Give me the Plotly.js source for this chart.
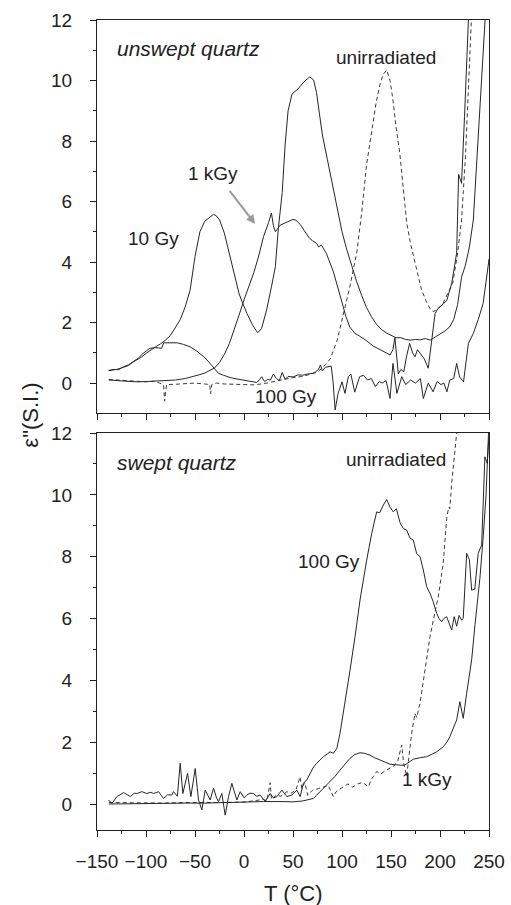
<!DOCTYPE html>
<html>
<head>
<meta charset="utf-8">
<script src="https://cdn.plot.ly/plotly-3.0.1.min.js"></script>
<style>html,body{margin:0;padding:0;background:#fff;}#chart{width:511px;height:905px;}</style>
</head>
<body>
<div id="chart"></div>
<script>
// ---------- Top panel: unswept quartz ----------
const top10T = [-138,-130,-125,-118,-113,-105,-100,-95,-90,-85,-80,-75,-70,-65,-60,-55,-50,-45,-40,-36,-31,-28,-25,-20,-15,-10,-5,-2,3,9,14,18,23,28,32,35,39,42,45,49,55,61,67,71,74,77,80,85,90,95,100,105,110,115,120,125,130,135,140,145,150,155,160,165,170,175,180,185,190,195,200,205,210,214,218,222,226,230,234,240,246];
const top10V = [0.42,0.45,0.5,0.58,0.7,0.85,0.98,1.1,1.2,1.3,1.42,1.58,1.85,2.1,2.52,3.07,4.18,5.0,5.35,5.45,5.58,5.52,5.4,4.95,4.3,3.55,2.95,2.69,2.3,1.9,1.66,1.81,2.41,3.18,3.85,5.1,6.3,7.9,9.0,9.55,9.72,9.95,10.12,10.02,9.6,8.9,8.2,7.4,6.6,5.8,5.0,4.4,3.85,3.35,2.9,2.5,2.2,1.95,1.78,1.66,1.58,1.5,1.5,1.44,1.42,1.44,1.43,1.47,1.42,1.52,1.62,1.72,1.86,2.1,2.6,3.5,3.9,4.5,5.39,8.5,12];

const top1kT = [-138,-130,-120,-110,-100,-90,-80,-70,-60,-50,-45,-40,-35,-30,-25,-20,-15,-10,-5,0,5,10,15,20,25,28,30,32,37,44,50,53,56,58,61,64,67,70,74,76,79,84,91,98,104,108,113,118,125,132,140,145,149,152,154,156,157.5,160,163,166,169,172,174.5,177,180,184,188,192,195,198,203,207,212,215,217,219,222,225,229];
const top1kV = [0.1,0.08,0.05,0.04,0.05,0.06,0.07,0.1,0.15,0.22,0.28,0.33,0.42,0.5,0.68,0.95,1.3,1.75,2.25,2.75,3.2,3.65,4.2,4.85,5.3,5.62,5.2,5.0,5.22,5.33,5.41,5.38,5.3,5.22,5.06,4.92,4.78,4.7,4.62,4.5,4.56,4.29,3.7,2.9,2.2,1.85,1.65,1.55,1.4,1.22,1.1,1.0,0.93,1.1,1.5,0.9,0.3,0.45,0.37,0.9,1.31,1.0,0.87,1.1,0.98,0.8,0.49,1.5,2.3,2.47,2.6,2.74,3.3,3.9,4.3,6.9,6.6,8.8,12];

const top100T = [-138,-132,-128,-123,-118,-113,-108,-103,-96,-90,-84,-82,-75,-68,-62,-55,-48,-41,-36,-31,-26,-21,-14,-8,-4,2,7,10,13,16,18,21,24,27,30,33,36,39,42,45,50,55,60,65,70,73,76,78,80,83,86,89,91,93,96,100,103,106.5,109,113,118,122,126,130,134,138,141,145,149,152,156,161,165,170,175,180,183,188,193,197,201,204,207,210,214,217,220,224,229,234,239,244,249,250];
const top100V = [0.41,0.45,0.44,0.54,0.6,0.71,0.82,0.98,1.15,1.17,1.15,1.33,1.34,1.33,1.28,1.2,1.05,0.87,0.7,0.51,0.32,0.26,0.18,0.14,0.12,0.1,0.06,0.04,0.02,0.12,0.21,0.05,0.12,0.1,0.3,0.15,0.08,0.35,0.12,0.22,0.2,0.27,0.26,0.3,0.32,0.37,0.45,0.6,0.4,0.52,0.55,0.56,0.0,-0.89,-0.34,0.04,-0.34,0.21,0.3,-0.3,0.21,0.26,0.1,0.15,-0.12,0.05,0.0,0.08,-0.51,0.65,-0.34,0.21,-0.05,0.1,0.0,0.15,-0.51,0.0,-0.29,0.05,-0.05,0.0,-0.29,0.1,0.15,0.65,0.2,0.04,1.31,1.64,2.1,2.63,3.84,4.1];

const topUnT = [-138,-130,-120,-110,-100,-92,-86,-82,-81,-80,-79,-70,-60,-50,-40,-35,-34,-33,-28,-20,-10,0,10,20,30,40,50,60,70,75,81,88,95,101,108,115,120,125,130,135,139,142,145.6,149,152,155,159,163,166,170,176,181,186,190,193,198,203,208,213,218,222,226,229,232];
const topUnV = [0.12,0.1,0.08,0.06,0.04,0.06,0.0,-0.07,-0.6,-0.3,-0.05,-0.04,-0.02,0.0,-0.03,-0.05,-0.35,-0.05,0.0,-0.03,-0.04,-0.05,-0.06,-0.02,0.05,0.12,0.18,0.22,0.3,0.36,0.54,0.8,1.4,2.19,3.18,4.3,5.6,7.2,8.3,9.3,9.9,10.2,10.35,10.0,9.36,8.5,7.59,6.4,5.3,4.6,3.74,3.1,2.7,2.45,2.36,2.45,2.63,2.95,3.3,4.3,5.39,7.5,9.6,12];

// ---------- Bottom panel: swept quartz ----------
const bot100T = [-138.2,-134.8,-129.7,-126,-122.9,-119,-116.1,-112,-109.3,-104.2,-99.1,-95,-92.3,-87.2,-82.1,-78,-73.6,-71.9,-68,-65.1,-62.4,-57.6,-54.2,-49.8,-46.4,-43,-39.6,-34.5,-31.1,-28,-26,-22.6,-19.2,-15.8,-12.4,-7.3,-3.9,0,2.9,6,9.7,13,16.5,21.6,26.7,30,33.5,38.6,43.7,48.8,53.9,57.3,60.6,64,67.4,71,74.3,78,81,85,87.8,91.2,94.7,98,103.1,108.2,113.3,118.4,125.2,130.3,135.4,138.5,142.2,145.6,149,152.3,155.5,159.2,162.5,166,169.4,172.7,176.2,179.6,183,186.4,190,193.1,196.6,199,201.7,204,206.8,209,211.9,214.5,217,219.5,222,223.7,227.2,230,232.3,235.5,239,242.5,245.8,248.2,250];
const bot100V = [0.13,0.02,0.24,0.3,0.37,0.3,0.24,0.35,0.34,0.4,0.34,0.38,0.34,0.4,0.18,0.3,0.29,0.4,0.25,1.32,0.34,0.99,0.24,1.15,0.13,-0.19,0.45,0.13,0.51,0.2,0.08,0.34,-0.36,0.24,0.67,0.13,0.4,0.2,0.29,0.35,0.34,0.25,0.29,0.08,0.34,0.2,0.24,0.45,0.24,0.29,0.45,0.24,0.67,0.78,0.99,1.2,1.32,1.45,1.53,1.62,1.69,1.64,1.8,2.29,3.26,4.33,5.41,6.6,7.89,8.75,9.45,9.42,9.67,9.85,9.6,9.45,9.55,9.1,8.91,8.86,8.6,8.54,8.1,8.0,7.57,7.03,6.8,6.54,6.17,6.0,5.9,6.0,6.06,5.9,5.63,6.06,5.75,6.1,5.95,6.0,8.11,7.9,6.92,6.95,8.11,8.38,11.23,11.02,11.9];

const bot1kT = [-138,-120,-100,-80,-60,-40,-20,0,20,40,50,60,65,70.8,74,77.6,82,87.8,93,98,103,108.2,113,118.4,123,128.6,133,138.8,144,149,155,159.2,163,166,172.7,180,186.4,191,196.6,203.3,207,210.1,214,217,220.3,223.7,227.2,232.3,235.7,240.7,244,247,249.5];
const bot1kV = [0.0,0.01,0.02,0.02,0.03,0.03,0.05,0.06,0.08,0.08,0.07,0.1,0.13,0.18,0.28,0.4,0.55,0.72,0.9,1.1,1.3,1.48,1.6,1.66,1.64,1.58,1.5,1.42,1.35,1.29,1.27,1.26,1.25,1.3,1.45,1.5,1.53,1.6,1.69,1.85,2.0,2.18,2.5,2.72,3.31,2.77,3.58,4.66,5.8,7.3,8.6,10.0,12];

const botUnT = [-138,-120,-100,-80,-60,-40,-20,0,10,20,23.3,26.7,28,30,33.5,37,40,43.7,48,53,57.2,59,62,65,70,76,82,86,91.2,94,101,106,111,116,121,126.9,130,135.4,140,145,152.3,157,160.9,163,166,168,171.1,174.5,176.2,179.6,184.7,189.8,193.2,198.2,203.3,207,209,210,212,215,217];
const botUnV = [0.05,0.04,0.05,0.03,0.05,0.04,0.05,0.06,0.1,0.15,0.1,0.69,0.15,0.2,0.3,0.25,0.3,0.4,0.35,0.45,0.88,0.5,0.7,0.28,0.45,0.5,0.55,0.6,0.24,0.4,0.55,0.65,0.55,0.65,0.7,0.56,0.8,1.05,0.98,1.1,1.21,1.4,1.91,1.3,0.9,1.5,2.29,2.93,2.8,3.26,4.33,5.41,5.95,6.7,7.8,9.3,9.6,9.55,10.4,11.4,12];

// ---------- Axis ticks ----------
const xTickVals = [-150,-100,-50,0,50,100,150,200,250];
const yTickVals = [0,2,4,6,8,10,12];

const LINE = '#262626';
const FONT = 'Liberation Sans, Arial, Helvetica, sans-serif';

function solid(x, y, xa, ya) {
  return {x: x, y: y, xaxis: xa, yaxis: ya, type: 'scatter', mode: 'lines',
          line: {color: LINE, width: 1}, hoverinfo: 'skip', showlegend: false};
}
function dashed(x, y, xa, ya) {
  return {x: x, y: y, xaxis: xa, yaxis: ya, type: 'scatter', mode: 'lines',
          line: {color: '#3a3a3a', width: 1, dash: '4px,3px'}, hoverinfo: 'skip', showlegend: false};
}

const data = [
  dashed(topUnT, topUnV, 'x', 'y'),
  solid(top10T, top10V, 'x', 'y'),
  solid(top1kT, top1kV, 'x', 'y'),
  solid(top100T, top100V, 'x', 'y'),
  dashed(botUnT, botUnV, 'x2', 'y2'),
  solid(bot1kT, bot1kV, 'x2', 'y2'),
  solid(bot100T, bot100V, 'x2', 'y2')
];

const xBase = {
  range: [-150, 250], tickvals: xTickVals, ticks: 'outside', ticklen: 6, tickwidth: 1, tickcolor: '#222',
  minor: {dtick: 25, tick0: -150, ticks: 'outside', ticklen: 3, tickcolor: '#222'},
  showline: true, linecolor: '#222', linewidth: 1, mirror: true, showgrid: false, zeroline: false,
  tickfont: {family: FONT, size: 19, color: '#222'}
};
const yBase = {
  tickvals: yTickVals, ticks: 'outside', ticklen: 6, tickwidth: 1, tickcolor: '#222',
  minor: {dtick: 1, tick0: 0, ticks: 'outside', ticklen: 3, tickcolor: '#222'},
  showline: true, linecolor: '#222', linewidth: 1, mirror: true, showgrid: false, zeroline: false,
  tickfont: {family: FONT, size: 19, color: '#222'}, ticklabelstandoff: 14
};

const ann = (x, y, xref, yref, text, opts) => Object.assign({
  x: x, y: y, xref: xref, yref: yref, text: text, showarrow: false,
  font: {family: FONT, size: 19, color: '#222'}
}, opts || {});
const ITAL = {family: FONT, size: 21, color: '#222'};

const layout = {
  width: 511, height: 905,
  margin: {l: 97, r: 22, t: 20, b: 75},
  paper_bgcolor: '#fff', plot_bgcolor: '#fff',
  showlegend: false,
  xaxis: Object.assign({}, xBase, {anchor: 'y', showticklabels: false}),
  yaxis: Object.assign({}, yBase, {domain: [0.5148, 1], range: [-0.99, 12], anchor: 'x'}),
  xaxis2: Object.assign({}, xBase, {anchor: 'y2', showticklabels: true, ticklabelstandoff: 8}),
  yaxis2: Object.assign({}, yBase, {domain: [0, 0.4901], range: [-0.84, 12], anchor: 'x2'}),
  annotations: [
    ann(-131.3, 11.07, 'x', 'y', '<i>unswept quartz</i>', {xanchor: 'left', yanchor: 'middle', font: ITAL}),
    ann(144.7, 10.76, 'x', 'y', 'unirradiated', {xanchor: 'center', yanchor: 'middle'}),
    ann(-32, 6.93, 'x', 'y', '1 kGy', {xanchor: 'center', yanchor: 'middle'}),
    ann(-92.8, 4.78, 'x', 'y', '10 Gy', {xanchor: 'center', yanchor: 'middle'}),
    ann(42.5, -0.45, 'x', 'y', '100 Gy', {xanchor: 'center', yanchor: 'middle'}),
    {x: 11.4, y: 5.26, xref: 'x', yref: 'y', ax: -15.8, ay: 6.4, axref: 'x', ayref: 'y',
     text: '', showarrow: true, arrowhead: 2, arrowsize: 0.9, arrowwidth: 2, arrowcolor: '#9a9a9a'},
    ann(-131.3, 11.05, 'x2', 'y2', '<i>swept quartz</i>', {xanchor: 'left', yanchor: 'middle', font: ITAL}),
    ann(154.6, 11.15, 'x2', 'y2', 'unirradiated', {xanchor: 'center', yanchor: 'middle'}),
    ann(86.6, 7.84, 'x2', 'y2', '100 Gy', {xanchor: 'center', yanchor: 'middle'}),
    ann(187.2, 0.8, 'x2', 'y2', '1 kGy', {xanchor: 'center', yanchor: 'middle'}),
    ann(0.5, -0.0778, 'paper', 'paper', 'T (°C)', {xanchor: 'center', yanchor: 'middle', font: {family: FONT, size: 22, color: '#222'}}),
    ann(-0.170, 0.512, 'paper', 'paper', 'ε"(S.I.)', {xanchor: 'center', yanchor: 'middle', textangle: -90, font: {family: FONT, size: 22, color: '#222'}})
  ]
};

Plotly.newPlot('chart', data, layout, {staticPlot: true, displayModeBar: false});
</script>
</body>
</html>
